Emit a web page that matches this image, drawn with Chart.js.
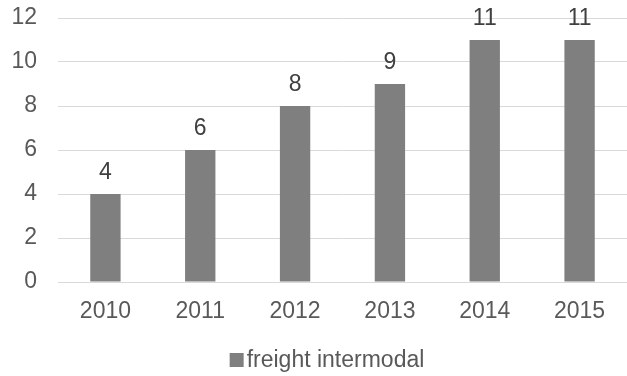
<!DOCTYPE html>
<html>
<head>
<meta charset="utf-8">
<script src="https://cdn.jsdelivr.net/npm/chart.js@4/dist/chart.umd.min.js"></script>
<style>
  body { margin: 0; background: #fff; }
  #wrap { width: 627px; height: 376px; }
</style>
</head>
<body>
<div id="wrap"><canvas id="myChart"></canvas></div>
<script>
// data
const years = ['2010', '2011', '2012', '2013', '2014', '2015'];
const intermodal = [4, 6, 8, 9, 11, 11];
const yTicks = [0, 2, 4, 6, 8, 10, 12];
const seriesName = 'freight intermodal';

const fontFamily = '"Liberation Sans", Arial, sans-serif';
const barColor = '#7f7f7f';

// numbers above each bar
const barLabels = {
  id: 'barLabels',
  afterDatasetsDraw(chart) {
    const ctx = chart.ctx;
    const meta = chart.getDatasetMeta(0);
    ctx.save();
    ctx.font = '23px ' + fontFamily;
    ctx.fillStyle = '#404040';
    ctx.textAlign = 'center';
    ctx.textBaseline = 'alphabetic';
    meta.data.forEach((bar, i) => {
      ctx.fillText(intermodal[i], bar.x, bar.y - 15);
    });
    ctx.restore();
  }
};

// legend like excel: small square hugging the text
const bottomLegend = {
  id: 'bottomLegend',
  afterDraw(chart) {
    const ctx = chart.ctx;
    ctx.save();
    ctx.font = '23px ' + fontFamily;
    const tw = ctx.measureText(seriesName).width;
    const total = 14 + 3 + tw;
    const x0 = 327 - total / 2;
    const cy = 360;
    ctx.fillStyle = barColor;
    ctx.fillRect(x0, cy - 7, 14, 14);
    ctx.fillStyle = '#595959';
    ctx.textAlign = 'left';
    ctx.textBaseline = 'middle';
    ctx.fillText(seriesName, x0 + 17, cy + 1);
    ctx.restore();
  }
};

Chart.defaults.font.family = fontFamily;
Chart.defaults.font.size = 23;
Chart.defaults.color = '#595959';

const myChart = document.getElementById('myChart');

let barChart = new Chart(myChart, {
  type: 'bar',
  data: {
    labels: years,
    datasets: [{
      label: seriesName,
      data: intermodal,
      backgroundColor: barColor,
      barPercentage: 0.32,
      categoryPercentage: 1
    }]
  },
  options: {
    responsive: true,
    maintainAspectRatio: false,
    animation: false,
    layout: { padding: { top: 18, right: 0, bottom: 38, left: 0 } },
    plugins: {
      tooltip: { enabled: false },
      legend: { display: false }
    },
    scales: {
      x: {
        grid: { display: false, drawTicks: false },
        border: { color: '#d9d9d9', width: 1 },
        ticks: { padding: 16, color: '#595959' },
        afterFit(scale) { scale.height = 56; }
      },
      y: {
        min: 0,
        max: 12,
        afterBuildTicks(scale) { scale.ticks = yTicks.map(v => ({ value: v })); },
        grid: { color: '#d9d9d9', drawTicks: false },
        border: { display: false },
        ticks: { padding: 21, color: '#595959' },
        afterFit(scale) {
          scale.width = 58;
          scale.paddingTop = 0;
          scale.paddingBottom = 0;
        }
      }
    }
  },
  plugins: [barLabels, bottomLegend]
});
</script>
</body>
</html>
